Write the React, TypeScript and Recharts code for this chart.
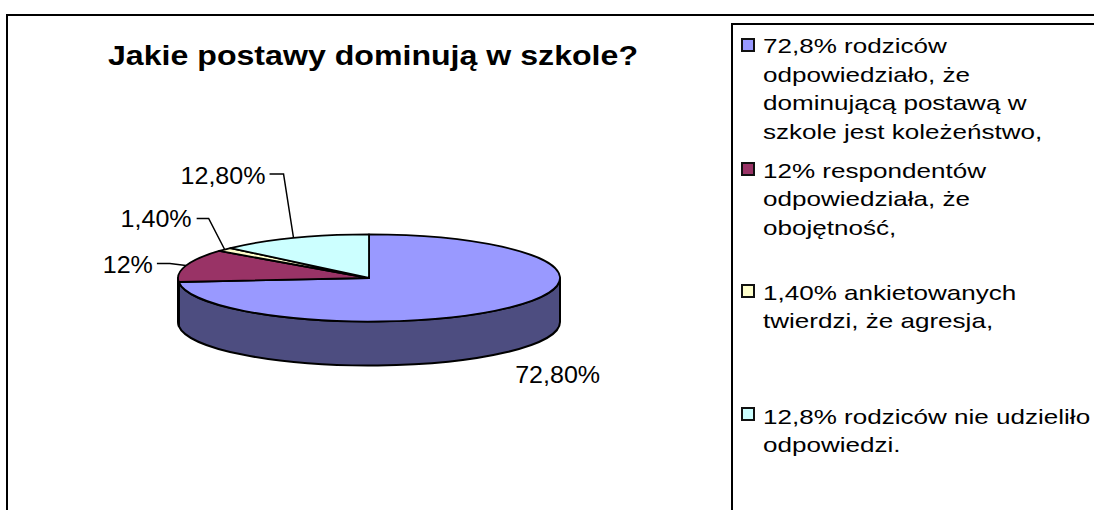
import React from 'react';
import { PieChart, Pie, Legend } from 'recharts';

const categories = [
  '72,8% rodziców\nodpowiedziało, że\ndominującą postawą w\nszkole jest koleżeństwo,',
  '12% respondentów\nodpowiedziała, że\nobojętność,',
  '1,40% ankietowanych\ntwierdzi, że agresja,',
  '12,8% rodziców nie udzieliło\nodpowiedzi.',
];
const values = [72.8, 12, 1.4, 12.8];
const valueLabels = ['72,80%', '12%', '1,40%', '12,80%'];
const colors = ['#9999FF', '#993366', '#FFFFCC', '#CCFFFF'];
const sideColors = ['#4D4D80', '#4D1A33', '#808066', '#668080'];

const title = 'Jakie postawy dominują w szkole?';
const data = categories.map((name, i) => ({ name, value: values[i], fill: colors[i], side: sideColors[i] }));

const W = 1094;
const H = 510;
const CX = 369;
const CY = 278;
const RX = 191;
const SQUASH = 0.228;
const DEPTH = 44;
const FONT = '"Liberation Sans", Arial, sans-serif';
const RAD = Math.PI / 180;

const pt = (cx: number, cy: number, rx: number, deg: number) => ({
  x: cx + rx * Math.cos(deg * RAD),
  y: cy - rx * SQUASH * Math.sin(deg * RAD),
});

function Slice3D(props: any) {
  const { cx, cy, outerRadius: rx, startAngle, endAngle, fill, side } = props;
  const hi = Math.max(startAngle, endAngle);
  const lo = Math.min(startAngle, endAngle);
  const ry = rx * SQUASH;
  const a = pt(cx, cy, rx, hi);
  const b = pt(cx, cy, rx, lo);
  const top = `M${cx} ${cy}L${a.x} ${a.y}A${rx} ${ry} 0 ${hi - lo > 180 ? 1 : 0} 1 ${b.x} ${b.y}Z`;
  const sHi = Math.min(hi, 0);
  const sLo = Math.max(lo, -180);
  let sidePath = '';
  if (sHi > sLo) {
    const p = pt(cx, cy, rx, sHi);
    const q = pt(cx, cy, rx, sLo);
    sidePath = `M${p.x} ${p.y}A${rx} ${ry} 0 0 1 ${q.x} ${q.y}L${q.x} ${q.y + DEPTH}A${rx} ${ry} 0 0 0 ${p.x} ${p.y + DEPTH}Z`;
  }
  return (
    <g>
      {sidePath && <path d={sidePath} fill={side} stroke="#000" strokeWidth={2} strokeLinejoin="round" />}
      <path d={top} fill={fill} stroke="#000" strokeWidth={1.8} strokeLinejoin="round" />
    </g>
  );
}

// label placement relative to the slice's rim point: [elbow dx, dy, line end dx, dy, text dx, dy]
const labelLayout = [
  null,
  [-16, -2, -29, -2, -33, 7],
  [-16, -31, -28, -31, -33, -22],
  [-10, -64, -24, -64, -28, -54],
];

function rimPoint(p: any) {
  return pt(p.cx, p.cy, p.outerRadius, p.midAngle);
}

function renderLine(p: any) {
  const l = labelLayout[p.index];
  if (!l) return <g />;
  const r = rimPoint(p);
  return (
    <path
      d={`M${r.x} ${r.y}L${r.x + l[0]} ${r.y + l[1]}L${r.x + l[2]} ${r.y + l[3]}`}
      fill="none"
      stroke="#000"
      strokeWidth={1.5}
    />
  );
}

function renderLabel(p: any) {
  const l = labelLayout[p.index];
  const r = rimPoint(p);
  const x = l ? r.x + l[4] : r.x + 5;
  const y = l ? r.y + l[5] : r.y + 76;
  return (
    <text
      transform={`translate(${x} ${y}) scale(1.09 1)`}
      textAnchor={l ? 'end' : 'start'}
      fontFamily={FONT}
      fontSize={23}
      fill="#000"
    >
      {valueLabels[p.index]}
    </text>
  );
}

const legendTextTops = [32, 156.7, 278.5, 402.5];
const legendMarkerTops = [38, 162, 284, 407];

function renderLegend(props: any) {
  const items = props.payload || [];
  return (
    <div style={{ position: 'relative', width: W - 733, height: H - 25 }}>
      {items.map((it: any, i: number) => (
        <div key={i}>
          <div
            style={{
              position: 'absolute',
              left: 8,
              top: legendMarkerTops[i] - 25,
              width: 10,
              height: 10,
              background: it.color,
              border: '2px solid #111',
            }}
          />
          <div
            style={{
              position: 'absolute',
              left: 30,
              top: legendTextTops[i] - 25,
              fontFamily: FONT,
              fontSize: 21,
              lineHeight: '28.5px',
              color: '#000',
              whiteSpace: 'pre',
              transform: 'scaleX(1.24)',
              transformOrigin: 'left top',
            }}
          >
            {it.value}
          </div>
        </div>
      ))}
    </div>
  );
}

export default function App() {
  return (
    <div style={{ position: 'absolute', left: 0, top: 0, width: W, height: H, overflow: 'hidden', background: '#fff' }}>
      <PieChart width={W} height={H} margin={{ top: 0, right: 0, bottom: 0, left: 0 }}>
        <path d={`M7 ${H}V15H${W}`} fill="none" stroke="#000" strokeWidth={2} />
        <path d={`M732 ${H}V24H${W}`} fill="none" stroke="#000" strokeWidth={2} />
        <text
          x={373}
          y={65}
          textAnchor="middle"
          fontFamily={FONT}
          fontWeight="bold"
          fontSize={28}
          textLength={530}
          lengthAdjust="spacingAndGlyphs"
          fill="#000"
        >
          {title}
        </text>
        <Pie
          data={data}
          dataKey="value"
          nameKey="name"
          cx={CX}
          cy={CY}
          outerRadius={RX}
          startAngle={90}
          endAngle={-270}
          stroke="#000"
          isAnimationActive={false}
          shape={Slice3D}
          label={renderLabel}
          labelLine={renderLine}
        />
        <Legend
          content={renderLegend}
          itemSorter={null}
          wrapperStyle={{ position: 'absolute', left: 733, top: 25, width: W - 733, height: H - 25, bottom: 'auto', right: 'auto' }}
        />
      </PieChart>
    </div>
  );
}
